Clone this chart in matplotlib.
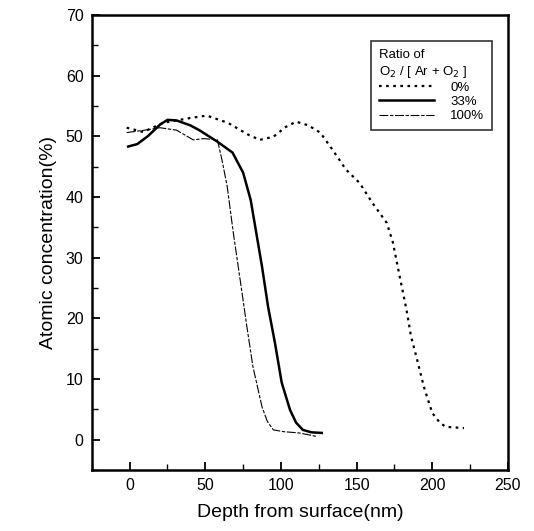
import matplotlib
matplotlib.use("Agg")
import matplotlib.pyplot as plt
from matplotlib.ticker import MultipleLocator

plt.rcParams["font.family"] = ["Liberation Sans", "DejaVu Sans"]

# 0 % O2
depth_0 = [-2, 9, 22, 40, 51, 65, 78, 86, 95, 103, 110, 118, 126, 134, 143, 152,
           160.5, 170, 174, 178.5, 183, 186, 190, 194.5, 200, 205, 209, 215, 221]
conc_0 = [51.4, 50.7, 52.2, 53.0, 53.4, 52.2, 50.3, 49.4, 49.9, 51.5, 52.4, 51.8,
          50.6, 47.8, 44.5, 42.3, 39.0, 35.7, 32.5, 26.9, 21.4, 17.0, 13.2, 8.7,
          4.4, 2.8, 2.1, 2.0, 1.9]

# 33 % O2
depth_33 = [-1, 5, 12, 20, 25, 31, 40, 46, 58, 68, 75, 80, 83, 87.5, 91.5, 96,
            100.5, 106, 110, 114.5, 120, 127]
conc_33 = [48.3, 48.7, 50.0, 51.9, 52.7, 52.6, 51.8, 51.0, 49.1, 47.3, 44.0, 39.5,
           35.1, 28.5, 21.9, 16.0, 9.4, 4.9, 2.8, 1.6, 1.2, 1.1]

# 100 % O2
depth_100 = [-2, 10, 20, 31, 42, 49, 54, 58, 61, 64.5, 68.5, 73, 77.5, 81.5, 87.5,
             91, 95, 102, 112, 124]
conc_100 = [50.6, 51.0, 51.4, 51.0, 49.4, 49.6, 49.5, 49.4, 46.1, 41.7, 34.1, 26.4,
            18.6, 12.0, 5.4, 3.0, 1.6, 1.3, 1.1, 0.5]

fig = plt.figure(figsize=(5.34, 5.31), dpi=100)
ax = fig.add_axes([0.172, 0.115, 0.779, 0.857])

ax.plot(depth_0, conc_0, color="black", linestyle=(0, (1.2, 2.0)), linewidth=1.6, label="0%")
ax.plot(depth_33, conc_33, color="black", linestyle="-", linewidth=1.8, label="33%")
ax.plot(depth_100, conc_100, color="black", linestyle=(0, (8, 1.5, 3, 1.5)), linewidth=0.8,
        label="100%")

ax.set_xlim(-25, 250)
ax.set_ylim(-5, 70)
ax.xaxis.set_major_locator(MultipleLocator(50))
ax.xaxis.set_minor_locator(MultipleLocator(25))
ax.yaxis.set_major_locator(MultipleLocator(10))
ax.yaxis.set_minor_locator(MultipleLocator(5))
ax.tick_params(which="both", direction="in", top=False, right=False, labelsize=11.5)
ax.tick_params(which="major", length=6, width=1.3, pad=6)
ax.tick_params(which="minor", length=4, width=1.0)
for side in ax.spines.values():
    side.set_linewidth(1.8)

ax.set_xlabel("Depth from surface(nm)", fontsize=14, labelpad=8)
ax.set_ylabel("Atomic concentration(%)", fontsize=14, labelpad=6)

leg = ax.legend(title="Ratio of\nO$_2$ / [ Ar + O$_2$ ]", loc="upper right",
                bbox_to_anchor=(0.978, 0.956), fontsize=9.5, title_fontsize=9.5,
                frameon=True, fancybox=False, edgecolor="black", handlelength=4.2,
                handletextpad=1.2, labelspacing=0.15, borderpad=0.6)
leg._legend_box.align = "left"
leg.get_frame().set_linewidth(1.2)

fig.savefig("out.png", dpi=100)
